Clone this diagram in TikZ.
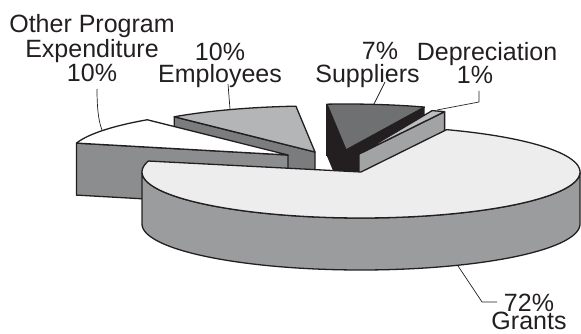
\documentclass[tikz,border=0pt]{standalone}
\usepackage{fontspec}
\setmainfont{Liberation Sans}
\lineskiplimit=-100pt
\newcommand\tightlines{\lineskiplimit=-100pt\relax}
\definecolor{ink}{HTML}{231F20}
\definecolor{grantstop}{HTML}{EDEDED}
\definecolor{grantsside}{HTML}{9B9C9E}
\definecolor{othertop}{HTML}{FFFFFF}
\definecolor{otherside}{HTML}{8C8D8F}
\definecolor{emptop}{HTML}{B4B5B7}
\definecolor{empside}{HTML}{7B7C7E}
\definecolor{suptop}{HTML}{6F7072}
\definecolor{supside}{HTML}{231F20}
\definecolor{deptop}{HTML}{BDBEC0}
\definecolor{depside}{HTML}{A2A3A5}
\begin{document}
\begin{tikzpicture}[x=1pt,y=-1pt,line join=round,
  face/.style={draw=ink,line width=1.3pt},
  lbl/.style={font=\fontsize{25}{24.5}\selectfont\tightlines,text=ink,align=center,inner sep=0pt,anchor=north},
  leader/.style={draw=ink,line width=0.7pt}]
\useasboundingbox (0,0) rectangle (581,334);

% Suppliers 7% (exploded back)
\fill[supside] (327,104.2) -- (346,150) -- (424.5,107) -- (424.5,159) -- (346,202) -- (327,156.2) -- cycle;
\draw[face] (327,104.2) -- (327,156.2);
\filldraw[face,fill=suptop] (346,150) -- plot[domain=265:291,samples=20] ({346+219*cos(\x)},{150+46*sin(\x)}) -- cycle;

% Employees 10%
\filldraw[face,fill=empside] (315,152) -- (174.2,116.8) -- (174.2,168.8) -- (315,204) -- cycle;
\filldraw[face,fill=emptop] (315,152) -- plot[domain=230:265,samples=20] ({315+219*cos(\x)},{152+46*sin(\x)}) -- cycle;

% Other Program Expenditure 10%
\filldraw[face,fill=otherside] (288,155) -- (76.5,143.1) -- (76.5,195.1) -- (288,207) -- cycle;
\filldraw[face,fill=othertop] (288,155) -- plot[domain=195:230,samples=20] ({288+219*cos(\x)},{155+46*sin(\x)}) -- cycle;

% Depreciation 1%
\filldraw[face,fill=depside] (359,154) -- (444.6,111.7) -- (444.6,163.7) -- (359,206) -- cycle;
\filldraw[face,fill=deptop] (359,154) -- plot[domain=289.5:293,samples=5] ({359+219*cos(\x)},{154+46*sin(\x)}) -- cycle;

% Grants 72%
\filldraw[face,fill=grantsside] plot[domain=0:180,samples=80] ({361+219*cos(\x)},{172+46*sin(\x)}) -- plot[domain=180:0,samples=80] ({361+219*cos(\x)},{224+46*sin(\x)}) -- cycle;
\filldraw[face,fill=grantstop] (361,172) -- plot[domain=-67:193.8,samples=120] ({361+219*cos(\x)},{172+46*sin(\x)}) -- cycle;

% labels
\node[lbl] (lother) at (92,14.5) {Other Program\\Expenditure\\10\%};
\node[lbl,font=\fontsize{25}{22}\selectfont\tightlines] (lemp) at (220,43) {10\%\\Employees};
\node[lbl,font=\fontsize{25}{23}\selectfont\tightlines] (lsup) at (367.5,42) {\hspace*{25pt}7\%\\Suppliers};
\node[lbl,font=\fontsize{25}{23}\selectfont\tightlines] (ldep) at (487,42) {Depreciation\\1\%\hspace*{24pt}};
\node[lbl,font=\fontsize{25}{18}\selectfont\tightlines] (lgr) at (529,294) {72\%\\Grants};

% leader lines
\coordinate (oA) at (97,89); \coordinate (oB) at (102,130);
\coordinate (eA) at (228,84); \coordinate (eB) at (230,109);
\coordinate (sA) at (385,82); \coordinate (sB) at (374,104);
\coordinate (dA) at (479,91); \coordinate (dK) at (479,102); \coordinate (dB) at (437,110);
\coordinate (gA) at (497,302); \coordinate (gK) at (482,302); \coordinate (gB) at (458,266);
\draw[leader] (oA) .. controls (97,105) and (98,120) .. (oB);
\draw[leader] (eA) -- (eB);
\draw[leader] (sA) -- (sB);
\draw[leader] (dA) -- (dK) -- (dB);
\draw[leader] (gA) -- (gK) -- (gB);
\end{tikzpicture}
\end{document}
